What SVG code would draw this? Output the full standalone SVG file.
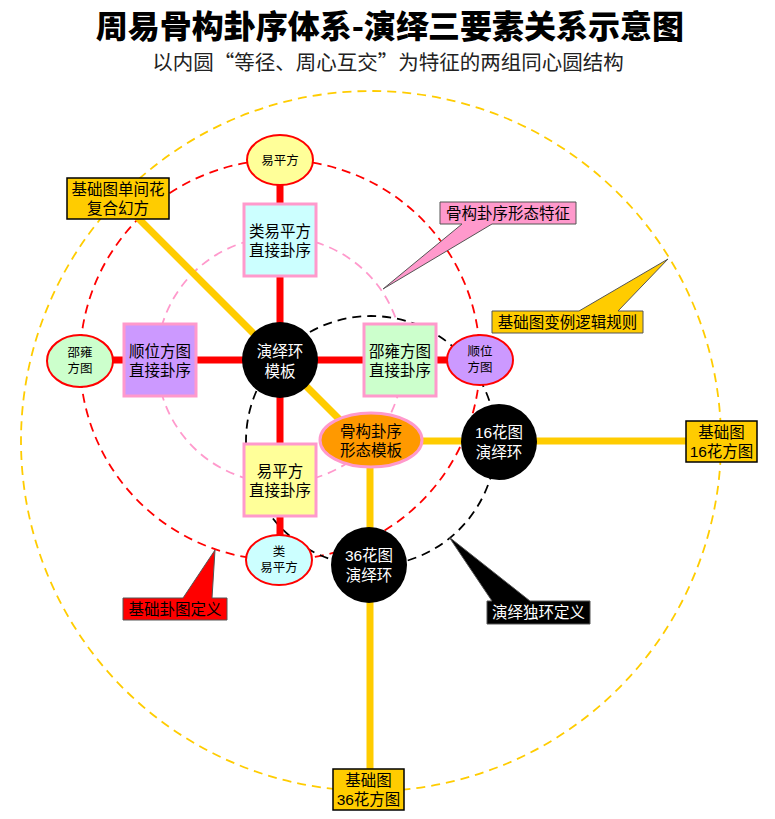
<svg xmlns="http://www.w3.org/2000/svg" width="775" height="819" viewBox="0 0 775 819">
<style>
  text { font-family: "Liberation Sans", "Noto Sans CJK SC", sans-serif; text-anchor: middle; }
  .title { font-size: 32px; font-weight: 900; fill: #000; font-family: "Noto Sans CJK SC", sans-serif; }
  .sub { font-size: 20.5px; fill: #222; font-family: "Noto Sans CJK SC", sans-serif; }
  .t16 { font-size: 15.5px; fill: #000; }
  .t12 { font-size: 12.5px; fill: #000; }
  .w16 { font-size: 15.5px; fill: #fff; }
  .ring { fill: none; stroke-width: 1.8; stroke-dasharray: 9 6; }
  .box { stroke: #ff99cc; stroke-width: 3; }
  .ell { stroke: #ff0000; stroke-width: 2; }
  .lbl { fill: #ffcc00; stroke: #000; stroke-width: 1.5; }
  .call { stroke: #555; stroke-width: 1; }
  .red { stroke: #ff0000; stroke-width: 7; fill: none; }
  .yel { stroke: #ffcc00; stroke-width: 7; fill: none; }
</style>
<rect width="775" height="819" fill="#fff"/>
<text class="title" x="390" y="38">周易骨构卦序体系-演绎三要素关系示意图</text>
<text class="sub" x="388" y="70">以内圆“等径、周心互交”为特征的两组同心圆结构</text>

<g id="rings">
  <circle class="ring" cx="371" cy="441" r="350" stroke="#ffcc00"/>
  <circle class="ring" cx="280" cy="360" r="200" stroke="#ff0000"/>
  <circle class="ring" cx="280" cy="360" r="123" stroke="#ff99cc" stroke-width="1.5"/>
  <circle class="ring" cx="371" cy="441" r="125" stroke="#000"/>
</g>

<g id="connectors">
  <line class="red" x1="280" y1="180" x2="280" y2="540"/>
  <line class="red" x1="100" y1="360" x2="460" y2="360"/>
  <line class="yel" x1="118" y1="198" x2="360" y2="440"/>
  <line class="yel" x1="400" y1="441" x2="700" y2="441"/>
  <line class="yel" x1="370" y1="450" x2="370" y2="780"/>
</g>

<g id="n-yipingfang-top">
  <ellipse class="ell" cx="280" cy="160" rx="33" ry="25" fill="#ffff99"/>
  <text class="t12" x="280" y="165">易平方</text>
</g>
<g id="n-lei-box">
  <rect class="box" x="244" y="204" width="72" height="72" fill="#ccffff"/>
  <text class="t16" x="280" y="237">类易平方<tspan x="280" dy="19">直接卦序</tspan></text>
</g>
<g id="n-shaoyong-left">
  <ellipse class="ell" cx="80" cy="361" rx="33" ry="26" fill="#ccffcc"/>
  <text class="t12" x="80" y="357">邵雍<tspan x="80" dy="16">方图</tspan></text>
</g>
<g id="n-shunwei-box">
  <rect class="box" x="124" y="324" width="72" height="72" fill="#cc99ff"/>
  <text class="t16" x="160" y="357">顺位方图<tspan x="160" dy="19">直接卦序</tspan></text>
</g>
<g id="n-template">
  <circle cx="280" cy="360" r="38" fill="#000"/>
  <text class="w16" x="280" y="357">演绎环<tspan x="280" dy="20">模板</tspan></text>
</g>
<g id="n-shaoyong-box">
  <rect class="box" x="364" y="324" width="72" height="72" fill="#ccffcc"/>
  <text class="t16" x="400" y="357">邵雍方图<tspan x="400" dy="19">直接卦序</tspan></text>
</g>
<g id="n-shunwei-right">
  <ellipse class="ell" cx="480" cy="360" rx="33" ry="25" fill="#cc99ff"/>
  <text class="t12" x="480" y="356">顺位<tspan x="480" dy="16">方图</tspan></text>
</g>
<g id="n-yi-box">
  <rect class="box" x="244" y="444" width="72" height="72" fill="#ffff99"/>
  <text class="t16" x="280" y="477">易平方<tspan x="280" dy="19">直接卦序</tspan></text>
</g>
<g id="n-lei-bottom">
  <ellipse class="ell" cx="279" cy="560" rx="33" ry="25" fill="#ccffff"/>
  <text class="t12" x="279" y="556">类<tspan x="279" dy="16">易平方</tspan></text>
</g>
<g id="n-gugou">
  <ellipse cx="371" cy="440" rx="51" ry="27" fill="#ff9900" stroke="#ff99cc" stroke-width="3"/>
  <text class="t16" x="371" y="437">骨构卦序<tspan x="371" dy="19">形态模板</tspan></text>
</g>
<g id="n-16">
  <circle cx="499" cy="442" r="38" fill="#000"/>
  <text class="w16" x="499" y="438">16花图<tspan x="499" dy="20">演绎环</tspan></text>
</g>
<g id="n-36">
  <circle cx="369" cy="565" r="38" fill="#000"/>
  <text class="w16" x="369" y="561">36花图<tspan x="369" dy="20">演绎环</tspan></text>
</g>
<g id="n-base16">
  <rect class="lbl" x="686" y="421" width="71" height="41"/>
  <text class="t16" x="721.5" y="438">基础图<tspan x="721.5" dy="19">16花方图</tspan></text>
</g>
<g id="n-base36">
  <rect class="lbl" x="333" y="769" width="71" height="41"/>
  <text class="t16" x="368.5" y="786">基础图<tspan x="368.5" dy="19">36花方图</tspan></text>
</g>
<g id="n-base-single">
  <rect class="lbl" x="67" y="178" width="102" height="41"/>
  <text class="t16" x="118" y="195">基础图单间花<tspan x="118" dy="19">复合幻方</tspan></text>
</g>

<g id="callout-form">
  <path class="call" fill="#ff99cc" d="M440,202 H576 V224 H492 L383,289 L462,224 H440 Z"/>
  <text class="t16" x="508" y="219">骨构卦序形态特征</text>
</g>
<g id="callout-rule">
  <path class="call" fill="#ffcc00" d="M492,311 H579 L668,259 L618,311 H643 V333 H492 Z"/>
  <text class="t16" x="567.5" y="328">基础图变例逻辑规则</text>
</g>
<g id="callout-base">
  <path class="call" fill="#ff0000" d="M123,598 H183 L215,550 L212,598 H227 V620 H123 Z"/>
  <text class="t16" x="175" y="615">基础卦图定义</text>
</g>
<g id="callout-ring">
  <path class="call" fill="#000" d="M487,601 H492 L449,537 L530,601 H590 V624 H487 Z"/>
  <text class="w16" x="538.5" y="618">演绎独环定义</text>
</g>
</svg>
